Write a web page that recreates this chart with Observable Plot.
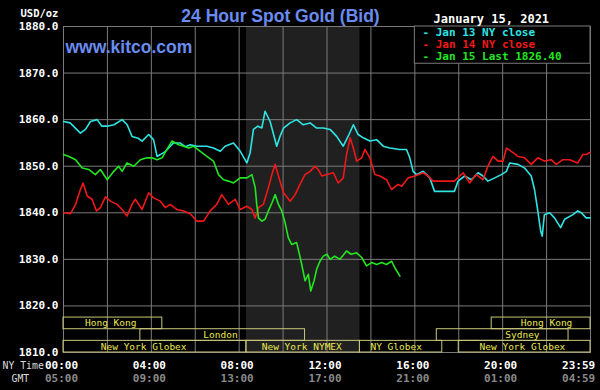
<!DOCTYPE html>
<html>
<head>
<meta charset="utf-8">
<script src="https://cdn.jsdelivr.net/npm/d3@7"></script>
<script src="https://cdn.jsdelivr.net/npm/@observablehq/plot@0.6"></script>
<style>
  html, body { margin: 0; padding: 0; background: #000; }
  svg { display: block; }
</style>
</head>
<body>
<script>
// ---- data (hours since 00:00 NY time, USD/oz) ----
const jan13 = [[0,1859.6],[0.3,1859.3],[0.77,1857.1],[1.0,1857.9],[1.23,1859.6],[1.53,1860],[1.75,1858.6],[1.99,1858.6],[2.3,1858.9],[2.67,1860],[2.9,1858.9],[3.12,1856.4],[3.4,1856],[3.58,1855.4],[3.88,1856.8],[4.1,1855.7],[4.26,1852.1],[4.41,1852.5],[4.65,1853.2],[5.01,1855],[5.3,1855],[5.55,1854.2],[5.77,1854.6],[6.08,1854.3],[6.53,1854.3],[6.83,1853.9],[7.14,1853.2],[7.36,1854.3],[7.74,1855],[8.05,1853.2],[8.35,1850.7],[8.5,1852.9],[8.65,1857.9],[8.85,1858.6],[9.03,1858.2],[9.18,1861.8],[9.41,1859.6],[9.71,1854.3],[9.86,1856.4],[10.02,1858.2],[10.32,1859.3],[10.62,1860],[10.92,1858.9],[11.23,1859.3],[11.53,1858.2],[11.83,1858.2],[12.14,1857.9],[12.44,1856.4],[12.74,1854.3],[13.0,1856.8],[13.2,1858.9],[13.42,1856.8],[13.65,1856.1],[13.95,1855.4],[14.26,1855.7],[14.56,1854.3],[14.86,1853.9],[15.32,1853.6],[15.62,1853.6],[15.77,1851.8],[15.92,1848.9],[16.08,1848.2],[16.38,1848.9],[16.68,1847.5],[16.9,1844.6],[17.8,1844.6],[17.97,1846.8],[18.27,1847.9],[18.58,1847.1],[18.88,1848.6],[19.1,1847.9],[19.33,1846.8],[19.64,1847.5],[19.94,1848.2],[20.17,1848.9],[20.32,1850.7],[20.7,1850.4],[21.0,1849.6],[21.3,1847.9],[21.45,1845],[21.6,1840.4],[21.73,1836.1],[21.8,1835],[21.9,1839.6],[22.14,1840],[22.36,1838.9],[22.64,1836.8],[22.82,1838.6],[23.2,1839.6],[23.42,1840.4],[23.58,1840],[23.8,1838.9],[23.98,1838.9]];

const jan14 = [[0,1840],[0.32,1839.8],[0.55,1841.8],[0.77,1845],[0.89,1846.4],[1.08,1843.6],[1.3,1842.9],[1.5,1840.4],[1.68,1841.1],[1.91,1843.4],[2.14,1842.5],[2.44,1841.8],[2.67,1840.7],[2.89,1839.3],[3.12,1841.8],[3.27,1842.9],[3.58,1840.7],[3.88,1844.3],[4.1,1843.2],[4.41,1842.5],[4.64,1841.1],[4.86,1841.8],[5.17,1840.7],[5.47,1840.4],[5.77,1839.8],[6.08,1838.2],[6.38,1838.2],[6.68,1840.4],[6.98,1841.8],[7.21,1843.9],[7.51,1841.8],[7.82,1842.9],[8.05,1840.7],[8.35,1841.4],[8.58,1840.7],[8.73,1838.9],[8.88,1841.1],[9.1,1841.8],[9.33,1845.4],[9.49,1848.2],[9.64,1850.4],[9.79,1847.9],[10.02,1844.3],[10.32,1842.5],[10.55,1843.9],[10.77,1846.1],[11.0,1848.2],[11.23,1848.9],[11.45,1850],[11.6,1849.3],[11.76,1847.9],[12.0,1848.2],[12.29,1848.6],[12.51,1846.4],[12.74,1847.5],[12.89,1852.5],[13.05,1856.1],[13.2,1853.9],[13.35,1851.1],[13.58,1851.8],[13.73,1853.6],[13.95,1851.8],[14.18,1848.2],[14.41,1847.9],[14.71,1847.1],[14.94,1845],[15.24,1846.1],[15.4,1845.7],[15.7,1847.5],[16.0,1847.9],[16.38,1848.6],[16.6,1847.9],[16.83,1846.8],[17.8,1846.8],[18.2,1848.6],[18.5,1846.4],[18.8,1848.2],[19.1,1847.1],[19.33,1850],[19.56,1852.1],[19.79,1851.1],[20.02,1851.1],[20.17,1853.9],[20.39,1853.2],[20.7,1852.1],[21.0,1851.8],[21.3,1850.4],[21.6,1851.8],[21.9,1851.1],[22.21,1851.4],[22.44,1850.4],[22.74,1851.4],[23.05,1851.4],[23.42,1850.7],[23.65,1852.5],[23.8,1852.5],[23.98,1853]];

const jan15 = [[0,1852.5],[0.25,1852.1],[0.55,1851.4],[0.85,1849.6],[1.15,1849.3],[1.45,1848.2],[1.68,1849.3],[1.99,1847.1],[2.29,1848.9],[2.51,1850],[2.67,1848.9],[2.89,1850.7],[3.2,1850],[3.5,1851.4],[3.8,1851.8],[4.03,1851.8],[4.26,1851.4],[4.49,1851.8],[4.71,1853.6],[4.94,1855.4],[5.24,1854.6],[5.47,1854.3],[5.7,1853.9],[5.92,1854.3],[6.23,1853.2],[6.53,1852.1],[6.83,1851.1],[7.06,1848.2],[7.29,1847.1],[7.51,1846.8],[7.74,1846.4],[8.05,1847.5],[8.35,1847.5],[8.58,1848.2],[8.73,1845.4],[8.8,1841.8],[8.88,1838.9],[9.03,1838.2],[9.18,1838.6],[9.33,1840.4],[9.49,1842.1],[9.64,1843.9],[9.79,1841.8],[9.94,1840.4],[10.09,1837.9],[10.24,1834.6],[10.39,1833.2],[10.62,1833.6],[10.85,1828.9],[11.0,1825.4],[11.15,1826.8],[11.26,1823.2],[11.41,1825.4],[11.53,1827.9],[11.68,1829.6],[11.83,1830.7],[12.0,1831.1],[12.14,1830],[12.35,1830.7],[12.59,1830],[12.89,1831.8],[13.1,1831.1],[13.35,1831.4],[13.58,1830.4],[13.8,1828.6],[14.03,1829.3],[14.26,1828.9],[14.49,1829.3],[14.71,1828.9],[14.94,1829.6],[15.09,1828.2],[15.32,1826.4]];

const seriesNames  = ["Jan 13 NY close", "Jan 14 NY close", "Jan 15 Last 1826.40"];
const seriesColors = ["#2fe4e4", "#f01818", "#22e622"];

const yTicks = [1810, 1820, 1830, 1840, 1850, 1860, 1870, 1880];
const xGridHours = [0, 2, 4, 6, 8, 10, 12, 14, 16, 18, 20, 22, 24];
const xLabelHours = [0, 4, 8, 12, 16, 20, 23.55];
const nyTimeLabels = ["00:00", "04:00", "08:00", "12:00", "16:00", "20:00", "23:59"];
const gmtLabels    = ["05:00", "09:00", "13:00", "17:00", "21:00", "01:00", "04:59"];

const sessionNames = ["Hong Kong", "London", "New York Globex", "New York NYMEX", "NY Globex", "Sydney", "Hong Kong", "New York Globex"];
const sessionStart = [0, 3.5, 0, 8.33, 13.5, 17, 19.5, 18];
const sessionEnd   = [4.5, 11, 8.33, 13.5, 17.25, 23, 24, 24];
const sessionRow   = [0, 1, 2, 2, 2, 1, 0, 2];
const sessionLabelAt = [2.15, 7.15, 3.65, 10.85, 15.15, 20.9, 22, 20.9];

const nymexShade = [{start: 8.33, end: 13.5}];

// ---- layout ----
const mono = "DejaVu Sans Mono, monospace";
const sans = "Liberation Sans, Arial, sans-serif";
const gridColor = "#7a7a7a";
const rowBands = [[1815, 1817.5], [1812.5, 1815], [1810, 1812.5]];
const sessions = sessionNames.map((n, i) => ({
  name: n, start: sessionStart[i], end: sessionEnd[i], row: sessionRow[i], at: sessionLabelAt[i]
}));
const xy = {x: d => d[0], y: d => d[1]};

const legendMarks = seriesNames.map((name, i) =>
  Plot.text(["- " + name], {frameAnchor: "top-left", dx: 359, dy: 9.5 + i * 12, lineAnchor: "bottom",
    textAnchor: "start", fill: seriesColors[i], fontFamily: mono, fontSize: 11, fontWeight: "bold"})
);

const chart = Plot.plot({
  width: 600,
  height: 390,
  marginLeft: 63,
  marginRight: 10,
  marginTop: 26,
  marginBottom: 38,
  style: {background: "#000", color: "#fff"},
  x: {domain: [0, 24], axis: null},
  y: {domain: [1810, 1880], axis: null},
  marks: [
    Plot.rect(nymexShade, {x1: "start", x2: "end", fill: "#202020"}),
    Plot.gridY(yTicks, {stroke: gridColor, strokeOpacity: 1}),
    Plot.gridX(xGridHours, {stroke: gridColor, strokeOpacity: 1}),
    Plot.frame({stroke: gridColor}),
    Plot.rect(sessions, {x1: "start", x2: "end", y1: d => rowBands[d.row][0], y2: d => rowBands[d.row][1],
      stroke: "#c9c77c", fill: "none", strokeWidth: 1}),
    Plot.text(sessions, {x: "at", y: d => (rowBands[d.row][0] + rowBands[d.row][1]) / 2, text: "name",
      fill: "#ecea52", fontFamily: mono, fontSize: 9.5}),
    Plot.line(jan13, {...xy, stroke: seriesColors[0], strokeWidth: 1.6}),
    Plot.line(jan14, {...xy, stroke: seriesColors[1], strokeWidth: 1.6}),
    Plot.line(jan15, {...xy, stroke: seriesColors[2], strokeWidth: 1.6}),
    // legend box
    Plot.rect([{x1: 16, x2: 24, y1: 1872, y2: 1880}], {x1: "x1", x2: "x2", y1: "y1", y2: "y2", fill: "#000", stroke: gridColor}),
    ...legendMarks,
    // y axis
    Plot.axisY(yTicks, {tickSize: 0, tickPadding: 5, tickFormat: d => d.toFixed(1), label: null,
      fontFamily: mono, fontSize: 11, fontWeight: "bold", fill: "#fff"}),
    // x labels
    Plot.text(xLabelHours, {x: d => d, text: (d, i) => nyTimeLabels[i], frameAnchor: "bottom", dx: -2, dy: 16,
      lineAnchor: "bottom", fill: "#fff", fontFamily: mono, fontSize: 11, fontWeight: "bold"}),
    Plot.text(xLabelHours, {x: d => d, text: (d, i) => gmtLabels[i], frameAnchor: "bottom", dx: -2, dy: 29.5,
      lineAnchor: "bottom", fill: "#8a8a8a", fontFamily: mono, fontSize: 11, fontWeight: "bold"}),
    Plot.text(["NY Time"], {frameAnchor: "bottom-left", dx: -61, dy: 16, lineAnchor: "bottom", textAnchor: "start",
      fill: "#dcdcdc", fontFamily: mono, fontSize: 9.8}),
    Plot.text(["GMT"], {frameAnchor: "bottom-left", dx: -52, dy: 29.5, lineAnchor: "bottom", textAnchor: "start",
      fill: "#dcdcdc", fontFamily: mono, fontSize: 9.8}),
    // header texts
    Plot.text(["USD/oz"], {frameAnchor: "top-left", dx: -43, dy: -10, lineAnchor: "bottom", textAnchor: "start",
      fill: "#fff", fontFamily: mono, fontSize: 10.5, fontWeight: "bold"}),
    Plot.text(["24 Hour Spot Gold (Bid)"], {frameAnchor: "top-left", dx: 217, dy: -5, lineAnchor: "bottom",
      textAnchor: "middle", fill: "#6a8cf0", fontFamily: sans, fontSize: 17.5, fontWeight: "bold"}),
    Plot.text(["www.kitco.com"], {frameAnchor: "top-left", dx: 2, dy: 26, lineAnchor: "bottom",
      textAnchor: "start", fill: "#6a8cf0", fontFamily: sans, fontSize: 17.5, fontWeight: "bold"}),
    Plot.text(["January 15, 2021"], {frameAnchor: "top-left", dx: 370, dy: -4, lineAnchor: "bottom",
      textAnchor: "start", fill: "#fff", fontFamily: mono, fontSize: 12, fontWeight: "bold"})
  ]
});
document.body.append(chart);
</script>
</body>
</html>
